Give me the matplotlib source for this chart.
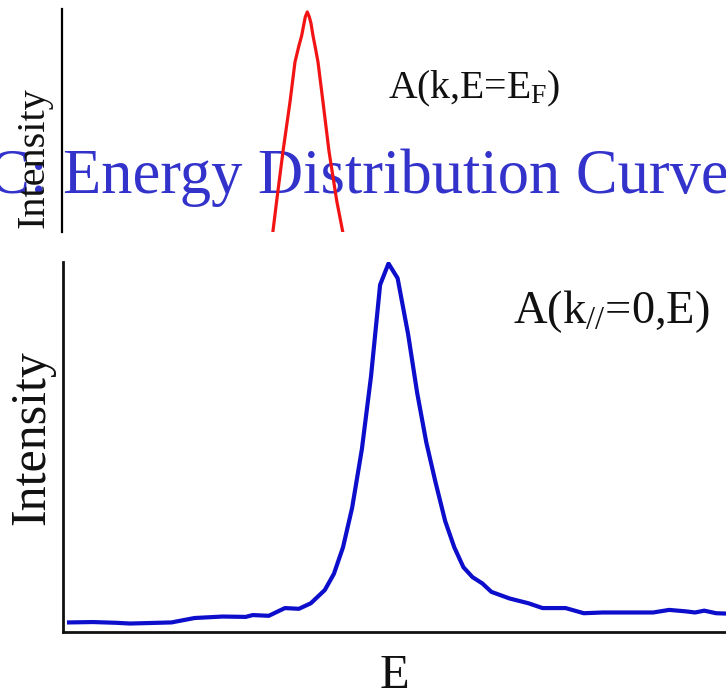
import numpy as np
import matplotlib
matplotlib.use("Agg")
import matplotlib.pyplot as plt

plt.rcParams['font.family'] = ['Liberation Serif', 'DejaVu Serif']
plt.rcParams['mathtext.fontset'] = 'custom'
plt.rcParams['mathtext.rm'] = 'Liberation Serif'
plt.rcParams['mathtext.it'] = 'Liberation Serif:italic'

# top panel: momentum distribution at E = E_F (red)
mdc_k = [29.96, 30.53, 31.43, 32.43, 33.14, 33.70, 34.10, 34.43, 34.62, 34.90,
         35.18, 35.43, 35.71, 36.05, 36.43, 37.14, 38.00, 39.10, 40.00]
mdc_int = [39.7, 48.5, 61.9, 75.3, 86.1, 90.5, 93.3, 96.6, 98.4, 99.7,
           98.4, 96.6, 93.3, 90.0, 86.1, 75.3, 61.9, 48.5, 39.7]

# bottom panel: energy distribution curve at k// = 0 (blue)
edc_e = [0.86, 4.3, 7.6, 9.6, 15.5, 18.8, 22.8, 26.1, 27.1, 29.4, 31.7, 33.7,
         35.4, 37.4, 38.7, 40.0, 41.3, 42.7, 44.0, 45.3, 46.5, 47.8, 49.3, 50.6,
         51.9, 53.2, 54.6, 55.9, 57.2, 58.5, 59.9, 61.2, 63.8, 66.5, 68.5, 71.8,
         74.4, 77.1, 84.3, 86.6, 89.0, 90.3, 91.6, 93.3, 94.8]
edc_int = [2.6, 2.7, 2.5, 2.3, 2.6, 3.8, 4.2, 4.1, 4.6, 4.4, 6.5, 6.3,
           7.8, 11.4, 15.8, 23.0, 33.7, 49.7, 69.4, 94.3, 100.1, 96.1, 80.9, 64.9,
           51.5, 40.8, 30.1, 23.0, 17.6, 14.9, 13.2, 10.9, 9.1, 7.8, 6.5, 6.5,
           5.1, 5.3, 5.3, 6.0, 5.6, 5.3, 5.8, 5.1, 5.0]

W, H = 726, 693
fig = plt.figure(figsize=(W / 100, H / 100), dpi=100)


def box(x0, y0, x1, y1):
    # pixel box (top-left origin) -> figure fraction rect
    return [x0 / W, 1 - y1 / H, (x1 - x0) / W, (y1 - y0) / H]


def fx(x):
    return x / W


def fy(y):
    return 1 - y / H


x_right = 800
xmax = (x_right - 63) / 7

# top panel
ax1 = fig.add_axes(box(62, 9, x_right, 232))
ax1.plot(mdc_k, mdc_int, color='#f21414', lw=2.3, zorder=3,
         solid_joinstyle='round')
ax1.set_xlim(-1 / 7, xmax)
ax1.set_ylim(40, 100.5)
for s in ['top', 'right', 'bottom']:
    ax1.spines[s].set_visible(False)
ax1.spines['left'].set_linewidth(1.6)
ax1.set_xticks([])
ax1.set_yticks([])
ax1.patch.set_alpha(0)
ax1.text(fx(388), fy(98), 'A(k,E=E$_\\mathregular{F}$)', transform=fig.transFigure,
         fontsize=28.5, ha='left', va='baseline', color='#111111')
fig.text(fx(34), fy(158), 'Intensity', rotation=90, fontsize=29,
         ha='center', va='center', color='#111111')
# big blue caption over the figure
ax1.text(fx(-95), fy(193), 'EDC: Energy Distribution Curve', transform=fig.transFigure,
         fontsize=45, color='#3333cc', ha='left', va='baseline', clip_on=False, zorder=2.7)

# bottom panel
ax2 = fig.add_axes(box(63, 262, x_right, 632))
ax2.plot(edc_e, edc_int, color='#0d0dcc', lw=3.0, solid_joinstyle='round')
ax2.set_xlim(0, xmax)
ax2.set_ylim(0, 100.5)
for s in ['top', 'right']:
    ax2.spines[s].set_visible(False)
for s in ['left', 'bottom']:
    ax2.spines[s].set_linewidth(2.0)
    ax2.spines[s].set_color('#111111')
ax2.set_xticks([])
ax2.set_yticks([])
fig.text(fx(32), fy(438), 'Intensity', rotation=90, fontsize=36,
         ha='center', va='center', color='#111111')
fig.text(fx(394), fy(688), 'E', fontsize=35, ha='center', va='baseline', color='#111111')
fig.text(fx(513), fy(323), 'A(k$_{\\mathregular{//}}$=0,E)', fontsize=33.5,
         ha='left', va='baseline', color='#111111')

fig.savefig('out.png', dpi=100)
